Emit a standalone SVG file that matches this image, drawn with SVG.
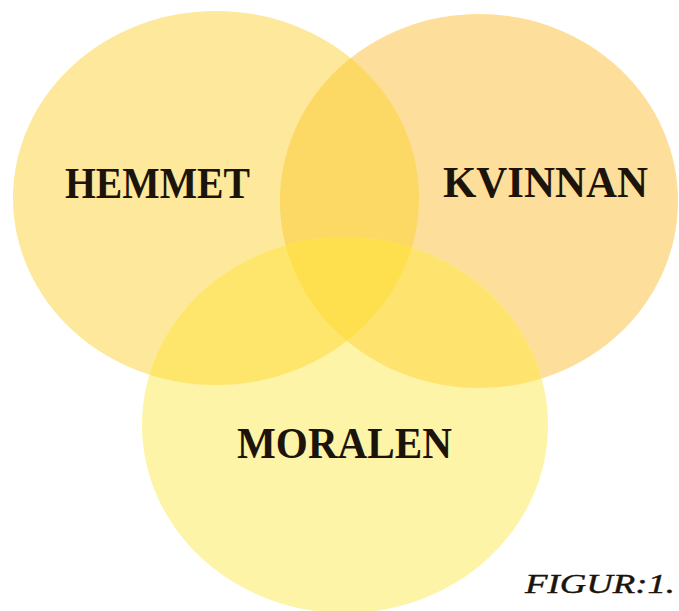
<svg xmlns="http://www.w3.org/2000/svg" width="679" height="611" viewBox="0 0 679 611">
<style>
.lbl{font-family:"Liberation Serif","Times New Roman",serif;font-weight:bold;font-size:44px;fill:#1c140a}
.fig{font-family:"Liberation Serif","Times New Roman",serif;font-style:italic;font-size:27px;fill:#1c140a;stroke:#1c140a;stroke-width:0.4}
</style>
<defs>
<ellipse id="e1" cx="216" cy="198" rx="203" ry="187"/>
<ellipse id="e2" cx="479" cy="201" rx="199" ry="187"/>
<ellipse id="e3" cx="345" cy="425" rx="203" ry="188"/>
<clipPath id="c1"><use href="#e1"/></clipPath>
<clipPath id="c2"><use href="#e2"/></clipPath>
</defs>
<rect width="679" height="611" fill="#ffffff"/>
<g id="hemmet">
<use href="#e1" fill="#FEE89B"/>
</g>
<g id="kvinnan">
<use href="#e2" fill="#FEDE9B"/>
</g>
<g id="moralen">
<use href="#e3" fill="#FEF4A7"/>
</g>
<g id="overlaps">
<use href="#e2" fill="#FCD964" clip-path="url(#c1)"/>
<use href="#e3" fill="#FEE66C" clip-path="url(#c1)"/>
<use href="#e3" fill="#FEE46F" clip-path="url(#c2)"/>
<g clip-path="url(#c2)"><use href="#e3" fill="#FEDF4E" clip-path="url(#c1)"/></g>
</g>
<g id="labels">
<text class="lbl" x="65" y="198" textLength="185" lengthAdjust="spacingAndGlyphs">HEMMET</text>
<text class="lbl" x="443" y="197" textLength="205" lengthAdjust="spacingAndGlyphs">KVINNAN</text>
<text class="lbl" x="237" y="458" textLength="215" lengthAdjust="spacingAndGlyphs">MORALEN</text>
<text class="fig" x="525" y="593" textLength="150" lengthAdjust="spacingAndGlyphs">FIGUR:1.</text>
</g>
</svg>
